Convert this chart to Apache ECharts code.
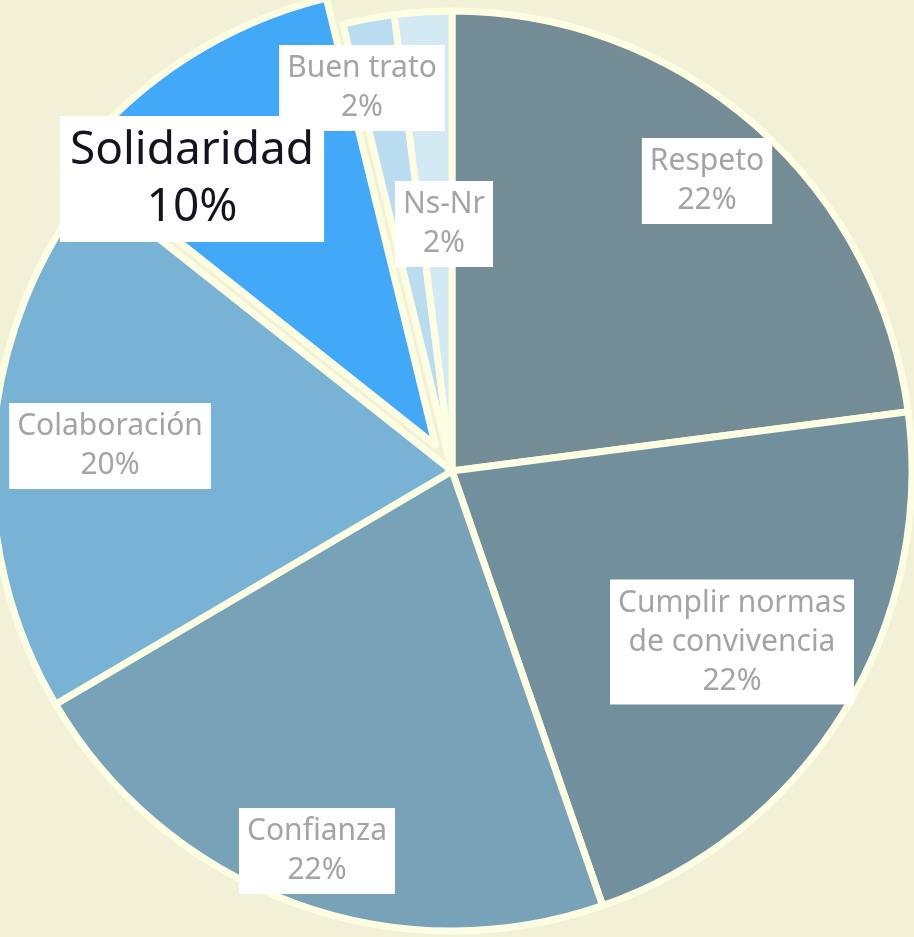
<!DOCTYPE html>
<html>
<head>
<meta charset="utf-8">
<script src="https://cdn.jsdelivr.net/npm/echarts@6/dist/echarts.min.js"></script>
<style>
  html, body { margin: 0; padding: 0; background: #f2f1d8; }
  #pie { width: 914px; height: 937px; }
</style>
</head>
<body>
<div id="pie"></div>
<script>
// categories, clockwise from the top
var categories = ['Respeto', 'Cumplir normas\nde convivencia', 'Confianza', 'Colaboración', 'Solidaridad', 'Buen trato', 'Ns-Nr'];
// shares
var values = [22.9, 21.7, 21.8, 19.1, 10.5, 1.8, 2.0];
// percentages printed in the labels
var shown = [22, 22, 22, 20, 10, 2, 2];
var colors = ['#748c95', '#718f9d', '#78a2b8', '#78b2d5', '#41a9f8', '#b9dcf0', '#d3e9f3'];

// where each label box sits (layout only)
var labelAt = [[707, 181], [732, 642], [317, 851], [110, 446], [192, 179], [362, 88], [444, 224]];

var pulled = 4;          // index of the slice pulled out of the pie
var pullOut = 31;        // px
var cx = 452, cy = 471, R = 460;

// mid angle of the pulled slice, measured clockwise from the top
var total = values.reduce(function (a, b) { return a + b; }, 0);
var before = values.slice(0, pulled).reduce(function (a, b) { return a + b; }, 0);
var mid = (before + values[pulled] / 2) / total * 2 * Math.PI;
var cx2 = cx + Math.sin(mid) * pullOut;
var cy2 = cy - Math.cos(mid) * pullOut;

var chart = echarts.init(document.getElementById('pie'));

function makeItems(showPulled) {
  return categories.map(function (name, i) {
    var visible = (i === pulled) === showPulled;
    var item = { name: name, value: values[i] };
    if (visible) {
      item.itemStyle = { color: colors[i] };
    } else {
      item.itemStyle = { color: 'rgba(0,0,0,0)', borderWidth: 0 };
      item.label = { show: false };
    }
    return item;
  });
}

var baseLabel = {
  show: true,
  position: 'inside',
  formatter: function (p) {
    return p.name + '\n' + shown[p.dataIndex] + '%';
  },
  fontFamily: 'Noto Sans',
  fontSize: 30,
  lineHeight: 39,
  color: '#a4a4a4',
  backgroundColor: '#ffffff',
  padding: [6, 8, 2, 8],
  align: 'center',
  verticalAlign: 'middle',
  overflow: 'none'
};

function pieSeries(center, items, label) {
  return {
    type: 'pie',
    center: center,
    radius: [0, R],
    startAngle: 90,
    clockwise: true,
    silent: true,
    emphasis: { disabled: true },
    itemStyle: { borderColor: '#fdfde2', borderWidth: 7 },
    label: label,
    labelLine: { show: false },
    labelLayout: function (params) {
      var p = labelAt[params.dataIndex];
      return { x: p[0], y: p[1] };
    },
    data: items
  };
}

chart.setOption({
  backgroundColor: '#f2f1d8',
  animation: false,
  series: [
    pieSeries([cx, cy], makeItems(false), baseLabel),
    pieSeries([cx2, cy2], makeItems(true), Object.assign({}, baseLabel, {
      fontSize: 46,
      lineHeight: 57,
      color: '#15131f',
      padding: [8, 10, 4, 10]
    }))
  ]
});
</script>
</body>
</html>
